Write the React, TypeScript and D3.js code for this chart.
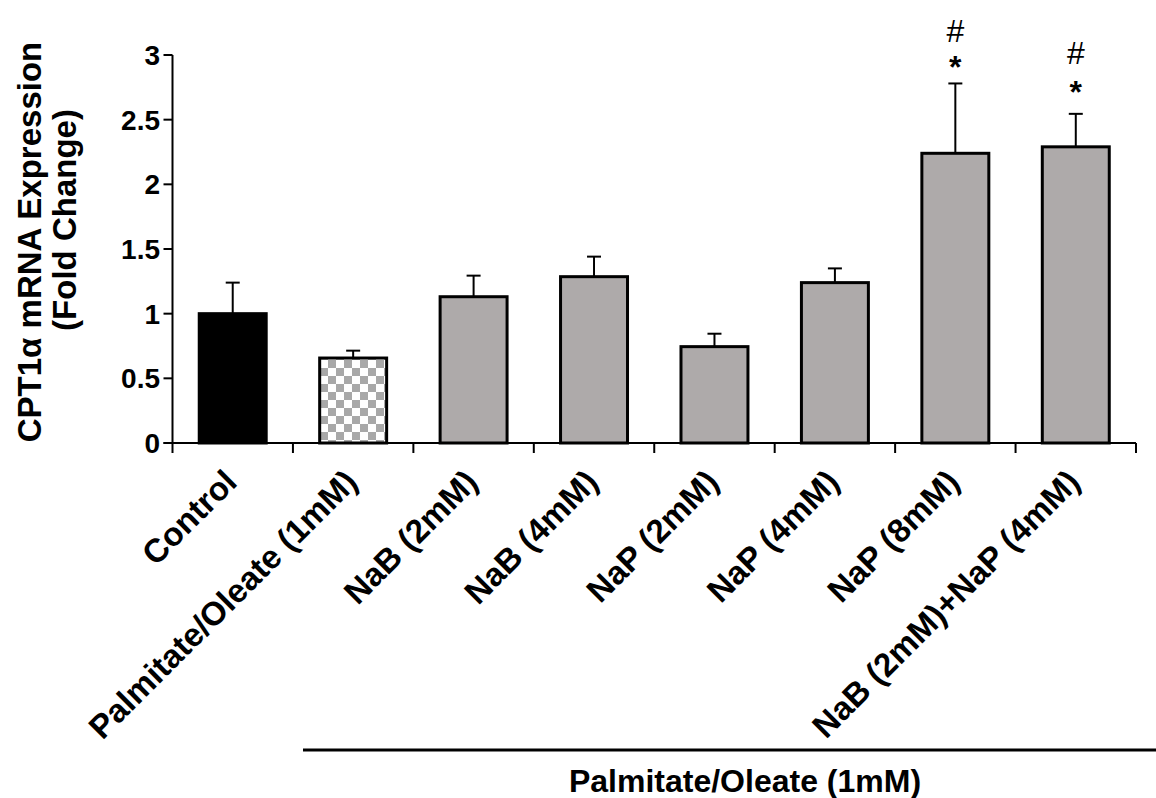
import React from "react";
import * as d3 from "d3";

const categories = [
  "Control",
  "Palmitate/Oleate (1mM)",
  "NaB (2mM)",
  "NaB (4mM)",
  "NaP (2mM)",
  "NaP (4mM)",
  "NaP (8mM)",
  "NaB (2mM)+NaP (4mM)",
];
const means = [1.0, 0.657, 1.131, 1.286, 0.745, 1.24, 2.24, 2.29];
const errors = [0.24, 0.057, 0.163, 0.155, 0.1, 0.11, 0.54, 0.255];
const fills = ["black", "checker", "gray", "gray", "gray", "gray", "gray", "gray"];
const yTicks = [0, 0.5, 1, 1.5, 2, 2.5, 3];
const annotations = [
  { cat: "NaP (8mM)", star: 2.97, hash: 3.19 },
  { cat: "NaB (2mM)+NaP (4mM)", star: 2.78, hash: 3.02 },
];
const yTitle1 = "CPT1α mRNA Expression";
const yTitle2 = "(Fold Change)";
const groupLabel = "Palmitate/Oleate (1mM)";

const W = 1156;
const H = 798;
const FONT = "'Liberation Sans', Arial, sans-serif";

export default function App() {
  const x0 = 172.5;
  const x1 = 1136;
  const x = d3
    .scaleBand<string>()
    .domain(categories)
    .range([x0, x1])
    .paddingInner(0.444)
    .paddingOuter(0.222);
  const y = d3.scaleLinear().domain([0, 3]).range([443, 55]);
  const step = x.step();
  const bw = x.bandwidth();

  const fillFor = (f: string) =>
    f === "black" ? "#000" : f === "checker" ? "url(#checker)" : "#aeaaaa";

  return (
    <svg
      width={W}
      height={H}
      style={{ position: "absolute", left: 0, top: 0, background: "#fff" }}
      fontFamily={FONT}
    >
      <defs>
        <pattern id="checker" width={16} height={16} patternUnits="userSpaceOnUse">
          <rect width={16} height={16} fill="#fff" />
          <rect x={0} y={0} width={8} height={8} fill="#a8a8a8" />
          <rect x={8} y={8} width={8} height={8} fill="#a8a8a8" />
        </pattern>
      </defs>
      <rect width={W} height={H} fill="#fff" />

      {/* bars */}
      {categories.map((c, i) => (
        <g key={c}>
          <line
            x1={(x(c) as number) + bw / 2}
            x2={(x(c) as number) + bw / 2}
            y1={y(means[i])}
            y2={y(means[i] + errors[i])}
            stroke="#000"
            strokeWidth={2}
          />
          <line
            x1={(x(c) as number) + bw / 2 - 7}
            x2={(x(c) as number) + bw / 2 + 7}
            y1={y(means[i] + errors[i])}
            y2={y(means[i] + errors[i])}
            stroke="#000"
            strokeWidth={2}
          />
          <rect
            x={x(c)}
            y={y(means[i])}
            width={bw}
            height={y(0) - y(means[i])}
            fill={fillFor(fills[i])}
            stroke="#000"
            strokeWidth={3}
          />
        </g>
      ))}

      {/* y axis */}
      <line x1={x0} x2={x0} y1={y(3)} y2={y(0)} stroke="#000" strokeWidth={2} />
      {yTicks.map((t) => (
        <g key={t}>
          <line x1={x0 - 9} x2={x0} y1={y(t)} y2={y(t)} stroke="#000" strokeWidth={2} />
          <text
            x={160}
            y={y(t)}
            dy="0.36em"
            textAnchor="end"
            fontSize={28}
            fontWeight="bold"
          >
            {t}
          </text>
        </g>
      ))}

      {/* x axis */}
      <line x1={x0 - 9} x2={x1} y1={y(0)} y2={y(0)} stroke="#000" strokeWidth={2} />
      {d3.range(categories.length + 1).map((i) => (
        <line
          key={i}
          x1={x0 + i * step}
          x2={x0 + i * step}
          y1={y(0)}
          y2={y(0) + 10}
          stroke="#000"
          strokeWidth={2}
        />
      ))}
      {categories.map((c) => {
        const cx = (x(c) as number) + bw / 2;
        return (
          <text
            key={c}
            transform={`translate(${cx + 6},${y(0) + 41}) rotate(-45)`}
            textAnchor="end"
            fontSize={33}
            fontWeight="bold"
          >
            {c}
          </text>
        );
      })}

      {/* annotations */}
      {annotations.map((a) => {
        const cx = (x(a.cat) as number) + bw / 2;
        return (
          <g key={a.cat}>
            <text x={cx} y={y(a.hash)} dy="0.36em" textAnchor="middle" fontSize={32}>
              #
            </text>
            <text x={cx} y={y(a.star)} dy="0.6em" textAnchor="middle" fontSize={32} fontWeight="bold">
              *
            </text>
          </g>
        );
      })}

      {/* y title */}
      <text
        transform={`translate(41,242) rotate(-90)`}
        textAnchor="middle"
        fontSize={33}
        fontWeight="bold"
      >
        {yTitle1}
      </text>
      <text
        transform={`translate(76,220) rotate(-90)`}
        textAnchor="middle"
        fontSize={33}
        fontWeight="bold"
      >
        {yTitle2}
      </text>

      {/* group bar */}
      <line x1={303} x2={W} y1={750} y2={750} stroke="#000" strokeWidth={3} />
      <text x={745} y={792} textAnchor="middle" fontSize={32} fontWeight="bold">
        {groupLabel}
      </text>
    </svg>
  );
}
